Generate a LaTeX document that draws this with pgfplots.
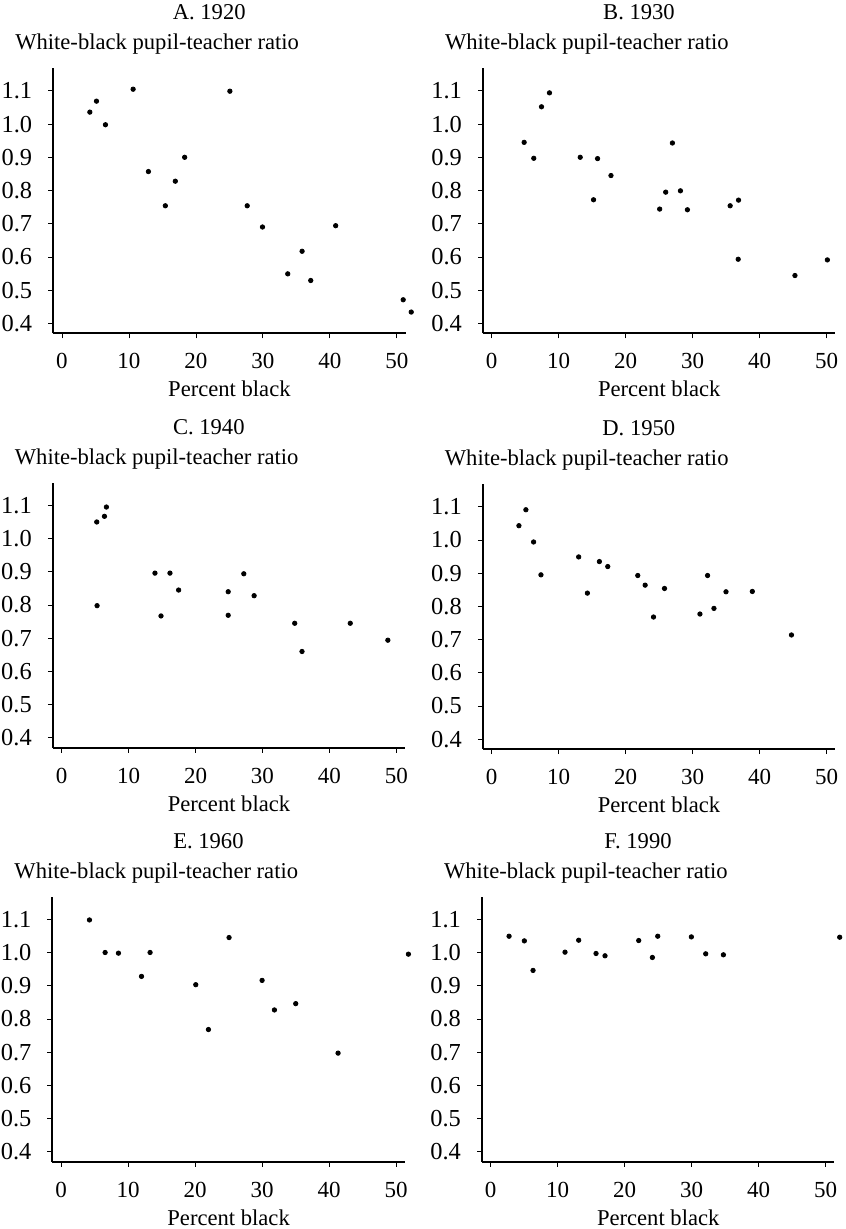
\documentclass[border=0pt]{standalone}
\usepackage{pgfplots}
\pgfplotsset{compat=1.18}
\usepackage{fontspec}
\setmainfont{Liberation Serif}
\newcommand\ff{\fontsize{11.3pt}{13pt}\selectfont}
\newcommand\fy{\fontsize{12.2pt}{14pt}\selectfont}
\newcommand\fx{\fontsize{11.5pt}{13pt}\selectfont}
\pgfplotsset{
  /pgf/number format/assume math mode=true,
  panel/.style={
    scale only axis, width=176.2pt, height=132.5pt,
    xmin=-1.3, xmax=51.3, ymin=0.37, ymax=1.168,
    axis lines=left, axis line style={-, line width=1pt},
    tick align=outside, major tick length=2.5pt,
    tick style={line width=0.4pt, black},
    xtick={0,10,20,30,40,50},
    ytick={0.4,0.5,0.6,0.7,0.8,0.9,1.0,1.1},
    yticklabel style={font=\fy, xshift=-4.5pt, /pgf/number format/.cd,fixed,fixed zerofill,precision=1},
    xticklabel style={font=\fx, yshift=-4pt},
    clip=false, anchor=south west,
  },
  dots/.style={only marks, mark=*, mark size=1.1pt, black},
}
\newcommand\decor[1]{%
  \node[anchor=base, font=\ff, xshift=78pt, yshift=24.2pt] at (rel axis cs:0,1) {#1};
  \node[anchor=base west, font=\ff, xshift=-22.5pt, yshift=9.2pt] at (rel axis cs:0,1) {White-black pupil-teacher ratio};
  \node[anchor=base, font=\ff, yshift=-31.7pt] at (rel axis cs:0.5,0) {Percent black};
}
\begin{document}
\begin{tikzpicture}
\useasboundingbox (0,0) rectangle (422.5pt,-614.5pt);
% A 1920
\begin{axis}[panel, at={(26.6pt,-166.65pt)}]
\addplot[dots] table {
x y
4.17 1.036
5.16 1.069
6.50 0.998
10.63 1.105
12.91 0.857
15.44 0.754
16.93 0.828
18.32 0.900
25.07 1.099
27.66 0.754
29.94 0.690
40.86 0.694
35.85 0.617
33.71 0.549
37.14 0.529
50.94 0.471
52.14 0.434
};
\decor{A. 1920}
\end{axis}
% B 1930
\begin{axis}[panel, at={(241.5pt,-166.65pt)}]
\addplot[dots] table {
x y
4.84 0.945
6.28 0.897
7.43 1.052
8.62 1.094
13.21 0.900
15.80 0.896
15.20 0.772
17.80 0.845
25.07 0.744
25.97 0.795
26.97 0.943
28.17 0.799
29.21 0.742
35.59 0.754
36.84 0.771
36.79 0.593
45.26 0.544
50.10 0.591
};
\decor{B. 1930}
\end{axis}
% C 1940
\begin{axis}[panel, at={(26.4pt,-373.9pt)}]
\addplot[dots] table {
x y
5.26 1.050
6.41 1.067
6.70 1.095
5.31 0.798
13.95 0.896
16.19 0.896
14.85 0.767
17.48 0.845
24.88 0.840
24.88 0.769
27.21 0.894
28.75 0.828
34.81 0.745
35.90 0.660
43.10 0.745
48.71 0.694
};
\decor{C. 1940}
\end{axis}
% D 1950
\begin{axis}[panel, at={(241.4pt,-374.6pt)}]
\addplot[dots] table {
x y
4.09 1.043
5.13 1.091
6.28 0.994
7.38 0.895
13.01 0.949
14.31 0.840
16.10 0.935
17.35 0.920
21.83 0.893
22.93 0.864
24.18 0.768
25.82 0.854
31.11 0.777
32.25 0.893
33.20 0.794
35.00 0.844
38.93 0.845
44.77 0.714
};
\decor{D. 1950}
\end{axis}
% E 1960
\begin{axis}[panel, at={(26.2pt,-580.85pt)}]
\addplot[dots] table {
x y
4.23 1.098
6.57 1.000
8.56 0.998
12.00 0.928
13.28 1.000
20.10 0.903
21.99 0.768
25.07 1.045
30.00 0.916
31.84 0.827
35.02 0.846
41.34 0.697
51.84 0.995
};
\decor{E. 1960}
\end{axis}
% F 1990
\begin{axis}[panel, at={(241.0pt,-580.85pt)}]
\addplot[dots] table {
x y
2.74 1.049
5.02 1.035
6.32 0.946
11.09 1.001
13.13 1.037
15.72 0.997
17.06 0.990
22.09 1.036
24.13 0.985
24.93 1.049
29.95 1.047
32.09 0.996
34.73 0.993
52.09 1.046
};
\decor{F. 1990}
\end{axis}
\end{tikzpicture}
\end{document}
